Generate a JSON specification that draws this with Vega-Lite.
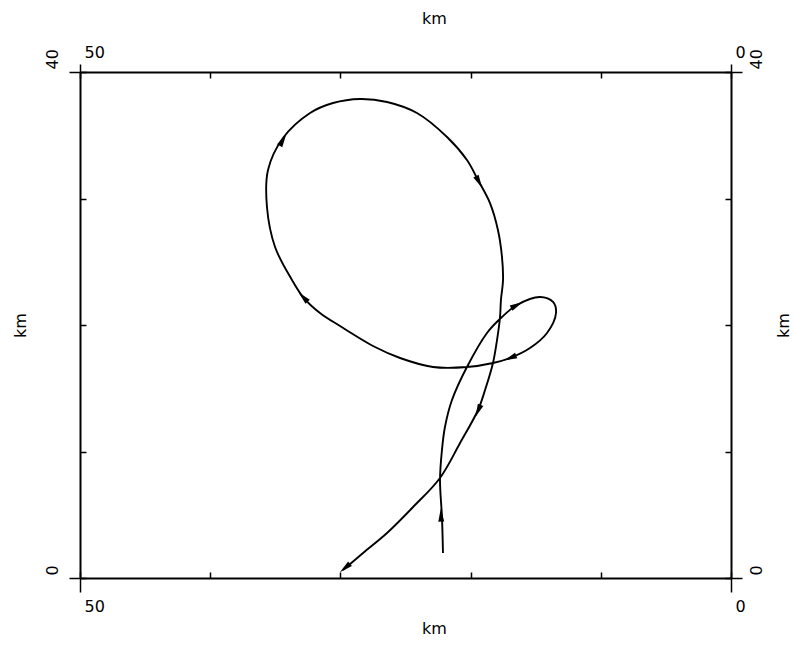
{
  "$schema": "https://vega.github.io/schema/vega-lite/v6.json",
  "width": 651,
  "height": 506,
  "autosize": {"type": "none"},
  "padding": {"left": 80, "top": 72, "right": 65, "bottom": 67},
  "background": "white",
  "datasets": {
    "track": [
      {"seq": 1, "x": 22.12, "y": 1.98},
      {"seq": 2, "x": 22.2, "y": 4.82},
      {"seq": 3, "x": 22.35, "y": 7.75},
      {"seq": 4, "x": 22.2, "y": 10.12},
      {"seq": 5, "x": 21.97, "y": 11.94},
      {"seq": 6, "x": 21.43, "y": 14.07},
      {"seq": 7, "x": 20.28, "y": 16.68},
      {"seq": 8, "x": 18.74, "y": 19.37},
      {"seq": 9, "x": 17.59, "y": 20.63},
      {"seq": 10, "x": 16.44, "y": 21.58},
      {"seq": 11, "x": 14.67, "y": 22.21},
      {"seq": 12, "x": 13.67, "y": 21.82},
      {"seq": 13, "x": 13.44, "y": 20.95},
      {"seq": 14, "x": 14.13, "y": 19.37},
      {"seq": 15, "x": 15.44, "y": 18.18},
      {"seq": 16, "x": 16.97, "y": 17.39},
      {"seq": 17, "x": 18.28, "y": 17.0},
      {"seq": 18, "x": 20.28, "y": 16.68},
      {"seq": 19, "x": 22.89, "y": 16.68},
      {"seq": 20, "x": 25.42, "y": 17.39},
      {"seq": 21, "x": 27.34, "y": 18.26},
      {"seq": 22, "x": 30.03, "y": 19.92},
      {"seq": 23, "x": 31.57, "y": 20.95},
      {"seq": 24, "x": 32.87, "y": 22.21},
      {"seq": 25, "x": 33.72, "y": 23.56},
      {"seq": 26, "x": 35.02, "y": 26.17},
      {"seq": 27, "x": 35.64, "y": 29.33},
      {"seq": 28, "x": 35.56, "y": 32.25},
      {"seq": 29, "x": 34.41, "y": 34.78},
      {"seq": 30, "x": 32.33, "y": 36.76},
      {"seq": 31, "x": 30.57, "y": 37.55},
      {"seq": 32, "x": 28.49, "y": 37.87},
      {"seq": 33, "x": 26.42, "y": 37.63},
      {"seq": 34, "x": 24.12, "y": 36.76},
      {"seq": 35, "x": 21.81, "y": 34.86},
      {"seq": 36, "x": 20.28, "y": 33.04},
      {"seq": 37, "x": 19.43, "y": 31.46},
      {"seq": 38, "x": 18.51, "y": 29.64},
      {"seq": 39, "x": 17.9, "y": 27.51},
      {"seq": 40, "x": 17.59, "y": 25.38},
      {"seq": 41, "x": 17.51, "y": 23.56},
      {"seq": 42, "x": 17.67, "y": 21.98},
      {"seq": 43, "x": 17.74, "y": 20.63},
      {"seq": 44, "x": 17.97, "y": 18.81},
      {"seq": 45, "x": 18.28, "y": 17.0},
      {"seq": 46, "x": 18.89, "y": 14.86},
      {"seq": 47, "x": 19.43, "y": 13.28},
      {"seq": 48, "x": 20.81, "y": 10.67},
      {"seq": 49, "x": 22.35, "y": 7.91},
      {"seq": 50, "x": 24.42, "y": 5.61},
      {"seq": 51, "x": 26.42, "y": 3.56},
      {"seq": 52, "x": 28.26, "y": 1.98},
      {"seq": 53, "x": 29.8, "y": 0.63}
    ],
    "arrows": [
      {"x": 22.27, "y": 4.98, "heading": 358},
      {"x": 16.44, "y": 21.58, "heading": 62},
      {"x": 16.97, "y": 17.39, "heading": 248},
      {"x": 32.87, "y": 22.21, "heading": 316},
      {"x": 34.41, "y": 34.62, "heading": 30},
      {"x": 19.35, "y": 31.3, "heading": 152},
      {"x": 19.43, "y": 13.2, "heading": 203},
      {"x": 29.65, "y": 0.79, "heading": 230}
    ]
  },
  "layer": [
    {
      "data": {"name": "track"},
      "mark": {"type": "line", "interpolate": "catmull-rom", "color": "black", "strokeWidth": 1.9},
      "encoding": {
        "x": {
          "field": "x", "type": "quantitative",
          "scale": {"domain": [0, 50], "reverse": true, "nice": false, "zero": false},
          "axis": {
            "orient": "bottom",
            "values": [0, 10, 20, 30, 40, 50],
            "labelExpr": "datum.value == 0 || datum.value == 50 ? datum.label : ''",
            "labelAlign": "left", "labelBaseline": "top", "labelOffset": 4, "labelPadding": 26,
            "title": "km", "titleX": 354, "titleY": 50, "titleBaseline": "middle"
          }
        },
        "y": {
          "field": "y", "type": "quantitative",
          "scale": {"domain": [0, 40], "nice": false, "zero": false},
          "axis": {
            "orient": "left",
            "values": [0, 10, 20, 30, 40],
            "labelExpr": "datum.value == 0 || datum.value == 40 ? datum.label : ''",
            "labelAngle": 270, "labelAlign": "left", "labelBaseline": "middle", "labelOffset": -3, "labelPadding": 34,
            "title": "km", "titleX": -60, "titleY": 253, "titleAngle": 270, "titleBaseline": "middle", "titleAlign": "center"
          }
        },
        "order": {"field": "seq", "type": "quantitative"}
      }
    },
    {
      "data": {"name": "arrows"},
      "mark": {"type": "point", "shape": "M0,-1L0.45,1L-0.45,1Z", "filled": true, "color": "black", "opacity": 1, "size": 175},
      "encoding": {
        "x": {
          "field": "x", "type": "quantitative",
          "axis": {
            "orient": "top",
            "values": [0, 10, 20, 30, 40, 50],
            "labelExpr": "datum.value == 0 || datum.value == 50 ? datum.label : ''",
            "labelAlign": "left", "labelBaseline": "bottom", "labelOffset": 4, "labelPadding": 18,
            "title": "km", "titleX": 354, "titleY": -54, "titleBaseline": "middle"
          }
        },
        "y": {
          "field": "y", "type": "quantitative",
          "axis": {
            "orient": "right",
            "values": [0, 10, 20, 30, 40],
            "labelExpr": "datum.value == 0 || datum.value == 40 ? datum.label : ''",
            "labelAngle": 270, "labelAlign": "left", "labelBaseline": "middle", "labelOffset": -3, "labelPadding": 31,
            "title": "km", "titleX": 52, "titleY": 253, "titleAngle": 270, "titleBaseline": "middle", "titleAlign": "center"
          }
        },
        "angle": {"field": "heading", "type": "quantitative", "scale": {"domain": [0, 360], "range": [0, 360]}}
      }
    },
    {
      "data": {"name": "arrows"},
      "mark": {"type": "point", "opacity": 0},
      "encoding": {
        "x": {
          "field": "x", "type": "quantitative",
          "axis": {"orient": "bottom", "values": [0, 50], "tickSize": 14, "domain": false, "labels": false, "title": null}
        },
        "y": {
          "field": "y", "type": "quantitative",
          "axis": {"orient": "left", "values": [0, 40], "tickSize": 11, "domain": false, "labels": false, "title": null}
        }
      }
    },
    {
      "data": {"name": "arrows"},
      "mark": {"type": "point", "opacity": 0},
      "encoding": {
        "x": {
          "field": "x", "type": "quantitative",
          "axis": {"orient": "top", "values": [0, 50], "tickSize": 8, "domain": false, "labels": false, "title": null}
        },
        "y": {
          "field": "y", "type": "quantitative",
          "axis": {"orient": "right", "values": [0, 40], "tickSize": 11, "domain": false, "labels": false, "title": null}
        }
      }
    }
  ],
  "resolve": {
    "scale": {"x": "shared", "y": "shared"},
    "axis": {"x": "independent", "y": "independent"}
  },
  "config": {
    "view": {"stroke": null},
    "axis": {
      "grid": false,
      "domainColor": "black",
      "domainWidth": 2,
      "tickColor": "black",
      "tickWidth": 1.5,
      "tickSize": -6,
      "labelFont": "DejaVu Sans",
      "labelFontSize": 16,
      "labelColor": "black",
      "labelFlush": false,
      "labelOverlap": false,
      "titleFont": "DejaVu Sans",
      "titleFontSize": 16,
      "titleFontWeight": "normal",
      "titleColor": "black"
    }
  }
}
